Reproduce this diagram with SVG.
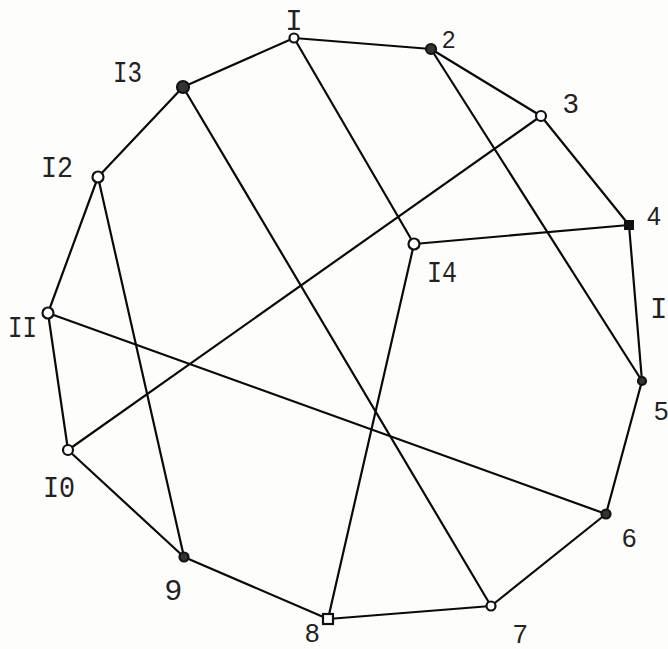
<svg xmlns="http://www.w3.org/2000/svg" width="668" height="649" viewBox="0 0 668 649">
<style>
.e{stroke:#0a0a0a;stroke-width:2.2;fill:none;stroke-linecap:round}
.o{fill:#fff;stroke:#111;stroke-width:2.2}
.d{fill:#333;stroke:#111;stroke-width:2.2}
.m{font-family:"Liberation Mono","Courier New",monospace;font-size:29px;fill:#222}
.s{font-family:"Liberation Sans",Arial,sans-serif;fill:#222}
</style>
<rect width="668" height="649" fill="#fdfdfc"/>
<g id="edges">
<line class="e" x1="294" y1="38" x2="431" y2="49"/>
<line class="e" x1="431" y1="49" x2="541" y2="116"/>
<line class="e" x1="541" y1="116" x2="629" y2="225"/>
<line class="e" x1="629" y1="225" x2="642" y2="381"/>
<line class="e" x1="642" y1="381" x2="606" y2="514"/>
<line class="e" x1="606" y1="514" x2="491" y2="606"/>
<line class="e" x1="491" y1="606" x2="328" y2="619"/>
<line class="e" x1="328" y1="619" x2="184" y2="557"/>
<line class="e" x1="184" y1="557" x2="68" y2="450"/>
<line class="e" x1="68" y1="450" x2="48" y2="313"/>
<line class="e" x1="48" y1="313" x2="98" y2="177"/>
<line class="e" x1="98" y1="177" x2="183" y2="87"/>
<line class="e" x1="183" y1="87" x2="294" y2="38"/>
<line class="e" x1="294" y1="38" x2="414" y2="244"/>
<line class="e" x1="414" y1="244" x2="629" y2="225"/>
<line class="e" x1="414" y1="244" x2="328" y2="619"/>
<line class="e" x1="431" y1="49" x2="642" y2="381"/>
<line class="e" x1="541" y1="116" x2="68" y2="450"/>
<line class="e" x1="183" y1="87" x2="491" y2="606"/>
<line class="e" x1="98" y1="177" x2="184" y2="557"/>
<line class="e" x1="48" y1="313" x2="606" y2="514"/>
</g>
<g id="n1"><circle class="o" cx="294" cy="38" r="4.5"/><text class="m" x="294" y="30" text-anchor="middle">I</text></g>
<g id="n2"><circle class="d" cx="431" cy="49" r="5"/><text class="s" x="442" y="48" font-size="24">2</text></g>
<g id="n3"><circle class="o" cx="541" cy="116" r="5"/><text class="s" x="563" y="113" font-size="28">3</text></g>
<g id="n4"><rect x="624" y="220" width="10" height="10" fill="#111"/><text class="s" x="647" y="225" font-size="25">4</text></g>
<g id="n5"><circle class="d" cx="642" cy="381" r="4"/><text class="s" x="654" y="420" font-size="26">5</text></g>
<g id="n6"><circle class="d" cx="606" cy="514" r="4.5"/><text class="s" x="622" y="547" font-size="26">6</text></g>
<g id="n7"><circle class="o" cx="491" cy="606" r="4.5"/><text class="s" x="513" y="643" font-size="26">7</text></g>
<g id="n8"><rect class="o" x="323" y="614" width="10" height="10"/><text class="s" x="305" y="642" font-size="26">8</text></g>
<g id="n9"><circle class="d" cx="184" cy="557" r="4.5"/><text class="s" x="165" y="600" font-size="30">9</text></g>
<g id="n10"><circle class="o" cx="68" cy="450" r="5"/><text class="m" x="43" y="497" textLength="32" lengthAdjust="spacingAndGlyphs">I0</text></g>
<g id="n11"><circle class="o" cx="48" cy="313" r="5.5"/><text class="m" x="8" y="337" textLength="29" lengthAdjust="spacingAndGlyphs">II</text></g>
<g id="n12"><circle class="o" cx="98" cy="177" r="5.5"/><text class="m" x="41" y="177" textLength="32" lengthAdjust="spacingAndGlyphs">I2</text></g>
<g id="n13"><circle class="d" cx="183" cy="87" r="6"/><text class="m" x="113" y="82" textLength="29" lengthAdjust="spacingAndGlyphs">I3</text></g>
<g id="n14"><circle class="o" cx="414" cy="244" r="5.5"/><text class="m" x="427" y="282" textLength="30" lengthAdjust="spacingAndGlyphs">I4</text></g>
<text class="m" x="650" y="318">I</text>
</svg>
